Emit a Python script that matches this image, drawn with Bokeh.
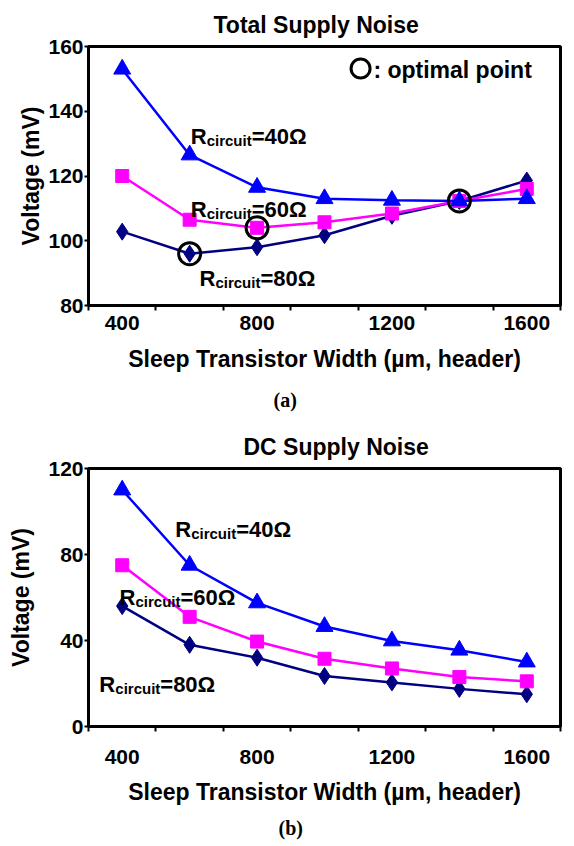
from bokeh.plotting import figure
from bokeh.models import Range1d, FixedTicker, Label, Title
from bokeh.layouts import column
from bokeh.embed import file_html
from bokeh.resources import INLINE

# ---------------- data ----------------
widths = [400, 600, 800, 1000, 1200, 1400, 1600]

total_r40 = [153, 126.5, 116.5, 113, 112.5, 112.3, 113]
total_r60 = [120, 106.5, 104, 105.7, 108.4, 112.3, 116]
total_r80 = [102.8, 96, 98, 101.7, 107.7, 112.3, 118.6]

opt_width = [600, 800, 1400]
opt_voltage = [96, 104, 112.3]

dc_r40 = [110, 75, 57.5, 46.5, 39.8, 35.5, 30]
dc_r60 = [75, 51, 39.5, 31.5, 27, 23, 21]
dc_r80 = [56, 38, 32, 23.5, 20.5, 17.5, 15]

x_tick_labels = [400, 800, 1200, 1600]
x_minor_ticks = [300, 500, 700, 900, 1100, 1300, 1500, 1700]
total_y_ticks = [80, 100, 120, 140, 160]
dc_y_ticks = [0, 40, 80, 120]

series_names = ["40", "60", "80"]

FONT = "Liberation Sans"
SERIF = "Liberation Serif"
BLUE = "#0000FF"
MAGENTA = "#FF00FF"
NAVY = "#000080"
W = 572


def make_fig(title, yticks, y0, y1, height, left, right, top, bottom,
             title_offset, title_standoff, x_standoff, xl_standoff,
             y_standoff, yl_standoff):
    p = figure(width=W, height=height, output_backend="svg",
               toolbar_location=None, x_range=Range1d(300, 1700),
               y_range=Range1d(y0, y1),
               min_border_left=left, min_border_right=right,
               min_border_top=top, min_border_bottom=bottom)
    p.title.text = title
    p.title.align = "left"
    p.title.offset = title_offset
    p.title.text_font = FONT
    p.title.text_font_size = "23px"
    p.title.text_font_style = "bold"
    p.title.text_color = "black"
    p.title.standoff = title_standoff
    p.grid.visible = False
    p.outline_line_color = "black"
    p.outline_line_width = 3
    p.outline_line_alpha = 1
    p.background_fill_color = "white"
    p.border_fill_color = "white"

    xa = p.xaxis[0]
    xa.ticker = FixedTicker(ticks=x_tick_labels, minor_ticks=x_minor_ticks)
    xa.axis_line_width = 3
    xa.axis_line_color = "black"
    xa.major_tick_out = 0
    xa.major_tick_in = 0
    xa.minor_tick_out = 5
    xa.minor_tick_in = 0
    xa.minor_tick_line_width = 2
    xa.minor_tick_line_color = "black"
    xa.major_label_text_font = FONT
    xa.major_label_text_font_size = "21px"
    xa.major_label_text_font_style = "bold"
    xa.major_label_text_color = "black"
    xa.major_label_standoff = x_standoff
    xa.axis_label = "Sleep Transistor Width (\u00b5m, header)"
    xa.axis_label_text_font = FONT
    xa.axis_label_text_font_size = "23px"
    xa.axis_label_text_font_style = "bold"
    xa.axis_label_text_color = "black"
    xa.axis_label_standoff = xl_standoff

    ya = p.yaxis[0]
    ya.ticker = FixedTicker(ticks=yticks, minor_ticks=[])
    ya.axis_line_width = 3
    ya.axis_line_color = "black"
    ya.major_tick_out = 4
    ya.major_tick_in = 0
    ya.major_tick_line_width = 2
    ya.minor_tick_out = 0
    ya.minor_tick_in = 0
    ya.major_label_text_font = FONT
    ya.major_label_text_font_size = "21px"
    ya.major_label_text_font_style = "bold"
    ya.major_label_text_color = "black"
    ya.major_label_standoff = y_standoff
    ya.axis_label = "Voltage (mV)"
    ya.axis_label_text_font = FONT
    ya.axis_label_text_font_size = "23px"
    ya.axis_label_text_font_style = "bold"
    ya.axis_label_text_color = "black"
    ya.axis_label_standoff = yl_standoff
    return p


def draw_series(p, r40, r60, r80):
    p.line(widths, r80, line_color=NAVY, line_width=2.5)
    p.scatter(widths, r80, marker="diamond", size=17, fill_color=NAVY,
              line_color=NAVY)
    p.line(widths, r60, line_color=MAGENTA, line_width=2.5)
    p.scatter(widths, r60, marker="square", size=13, fill_color=MAGENTA,
              line_color=MAGENTA)
    p.line(widths, r40, line_color=BLUE, line_width=2.5)
    p.scatter(widths, r40, marker="triangle", size=17, fill_color=BLUE,
              line_color=BLUE)


def r_label(p, x, y, num):
    common = dict(x=x, y=y, text_font=FONT, text_font_style="bold",
                  text_color="black", text_baseline="alphabetic",
                  text_align="left")
    p.add_layout(Label(text="R", text_font_size="22px", **common))
    p.add_layout(Label(text="circuit", text_font_size="15px",
                       x_offset=16, y_offset=-4, **common))
    p.add_layout(Label(text="=" + num + "\u03a9", text_font_size="22px",
                       x_offset=61, **common))


def panel_tag(p, text, offset, standoff):
    p.add_layout(Title(text=text, align="left", offset=offset,
                       text_font=SERIF, text_font_size="20px",
                       text_font_style="bold", text_color="black",
                       standoff=standoff), "below")


# ---------------- (a) Total supply noise ----------------
pa = make_fig("Total Supply Noise", total_y_ticks, 80, 160, 423,
              88, W - 560, 44, 118, 125, 18, 5, 13, 1, 1)
draw_series(pa, total_r40, total_r60, total_r80)
pa.scatter(opt_width, opt_voltage, marker="circle", size=22,
           fill_color=None, line_color="black", line_width=3)
r_label(pa, 603, 132.3, series_names[0])
r_label(pa, 603, 109.8, series_names[1])
r_label(pa, 629, 88.3, series_names[2])
pa.scatter([1107], [153.2], marker="circle", size=19, fill_color=None,
           line_color="black", line_width=3)
pa.add_layout(Label(x=1145, y=152.7, text=": optimal point",
                    text_font=FONT, text_font_size="23px",
                    text_font_style="bold", text_color="black",
                    text_baseline="alphabetic"))
panel_tag(pa, "(a)", 185, 25)

# ---------------- (b) DC supply noise ----------------
pb = make_fig("DC Supply Noise", dc_y_ticks, 0, 120, 423,
              83, W - 568, 45, 120, 155, 17, 18, 12, 1, 11)
draw_series(pb, dc_r40, dc_r60, dc_r80)
r_label(pb, 557, 91.5, series_names[0])
r_label(pb, 392, 60.0, series_names[1])
r_label(pb, 332, 19.5, series_names[2])
panel_tag(pb, "(b)", 190, 15)

layout = column(pa, pb, spacing=0)
open("out.html", "w").write(file_html(layout, INLINE))
